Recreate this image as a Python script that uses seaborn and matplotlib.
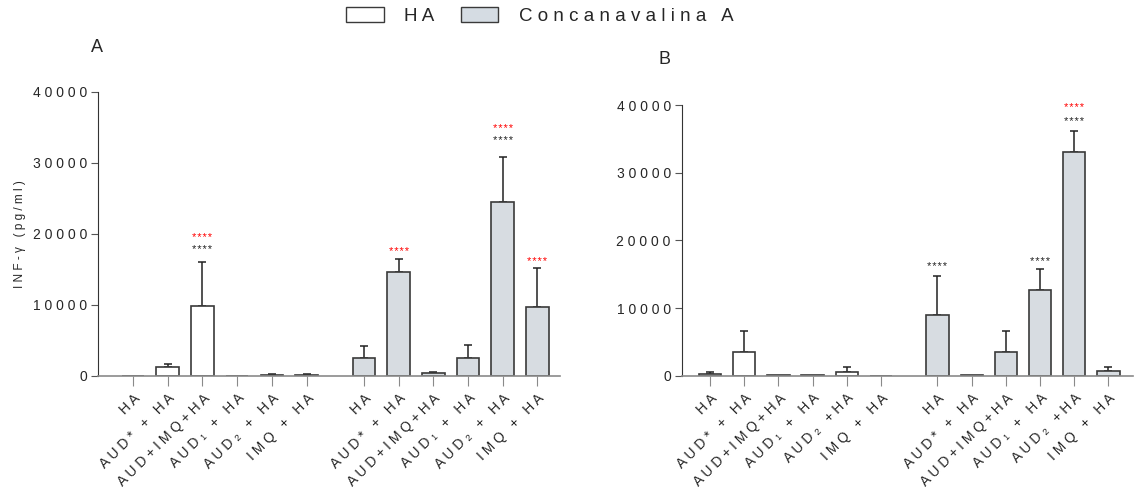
import numpy as np
import pandas as pd
import seaborn as sns
import matplotlib.pyplot as plt
from matplotlib.patches import Patch

# data (IFN-gamma, pg/ml): mean and upper SD
labels_a = ["HA", "AUD* + HA", "AUD+IMQ+HA", "AUD\u2081 + HA", "AUD\u2082 + HA", "IMQ + HA"]
labels_b = ["HA", "AUD* + HA", "AUD+IMQ+HA", "AUD\u2081 + HA", "AUD\u2082 +HA", "IMQ + HA"]
groups = ["HA", "Concanavalina A"]

a_ha_mean = [0, 1300, 9850, 0, 150, 200]
a_ha_sd = [0, 450, 6150, 0, 120, 120]
a_con_mean = [2500, 14700, 380, 2550, 24500, 9700]
a_con_sd = [1780, 1750, 180, 1780, 6350, 5450]

b_ha_mean = [200, 3450, 30, 50, 600, 0]
b_ha_sd = [300, 3150, 0, 0, 650, 0]
b_con_mean = [9000, 50, 3450, 12600, 33000, 700]
b_con_sd = [5700, 0, 3150, 3100, 3100, 600]

# significance marks: (bar index, group index, value, colour)
a_stars = [(2, 0, 19400, "red"), (2, 0, 17800, "#222222"),
           (1, 1, 17400, "red"), (5, 1, 16100, "red"),
           (4, 1, 34800, "red"), (4, 1, 33100, "#222222")]
b_stars = [(0, 1, 16100, "#222222"), (3, 1, 16800, "#222222"),
           (4, 1, 37550, "#222222"), (4, 1, 39500, "red")]

colors = {"HA": "white", "Concanavalina A": "#d5dce3"}
gap = 6.65


def spaced(s, sep=" "):
    return sep.join(list(s))


sns.set_style("ticks")
plt.rcParams['font.family'] = ['Liberation Sans', 'DejaVu Sans']
plt.rcParams['font.size'] = 10

fig = plt.figure(figsize=(11.37, 4.97), dpi=100)
ax_a = fig.add_axes([0.0862, 0.2435, 0.4063, 0.5714])
ax_b = fig.add_axes([0.5998, 0.2441, 0.3967, 0.5446])


def draw_panel(ax, ha_mean, ha_sd, con_mean, con_sd, labels, stars, xlim):
    pos = np.concatenate([np.arange(6), np.arange(6) + gap])
    df = pd.DataFrame({
        "pos": pos,
        "value": ha_mean + con_mean,
        "sd": ha_sd + con_sd,
        "group": [groups[0]] * 6 + [groups[1]] * 6,
    })
    for g in groups:
        sub = df[df["group"] == g]
        sns.barplot(data=sub, x="pos", y="value", native_scale=True,
                    color=colors[g], edgecolor="#3a3a3a", linewidth=1.2,
                    width=0.65, errorbar=None, ax=ax, zorder=2)
        s = sub[sub["sd"] > 0]
        ax.errorbar(s["pos"], s["value"], yerr=[np.zeros(len(s)), s["sd"]],
                    fmt="none", ecolor="#222222", elinewidth=1.1,
                    capsize=3, capthick=1.1, zorder=1)
    for i, grp, y, c in stars:
        x = i + gap * grp
        ax.text(x, y, spaced("****", "\u200a"), color=c, fontsize=8,
                ha="center", va="center")
    ax.set_xlim(*xlim)
    ax.set_ylim(0, 40000)
    ax.set_xticks(pos)
    ax.set_xticklabels([spaced(l) for l in labels + labels], rotation=45,
                       ha="right", rotation_mode="anchor", fontsize=10)
    ax.set_yticks([0, 10000, 20000, 30000, 40000])
    ax.set_yticklabels([spaced(str(v)) for v in [0, 10000, 20000, 30000, 40000]],
                       fontsize=10)
    ax.set_xlabel("")
    ax.set_ylabel("")
    sns.despine(ax=ax)
    ax.spines["left"].set_color("#333333")
    ax.spines["bottom"].set_color("#8a8a8a")
    ax.spines["bottom"].set_linewidth(1.2)
    ax.tick_params(axis="x", length=7, color="#8a8a8a", pad=4)
    ax.tick_params(axis="y", length=5, color="#555555", pad=3)


draw_panel(ax_a, a_ha_mean, a_ha_sd, a_con_mean, a_con_sd, labels_a, a_stars, (-1.01, 12.3))
draw_panel(ax_b, b_ha_mean, b_ha_sd, b_con_mean, b_con_sd, labels_b, b_stars, (-0.82, 12.37))

ax_a.set_ylabel(spaced("INF-\u03b3 (pg/ml)"), fontsize=8.5)
ax_a.yaxis.set_label_coords(-0.155, 0.5)

fig.text(97 / 1137, 1 - 47 / 497, "A", fontsize=13, ha="center", va="center")
fig.text(665 / 1137, 1 - 60 / 497, "B", fontsize=13, ha="center", va="center")

handles = [Patch(facecolor=colors[g], edgecolor="#3a3a3a", linewidth=1.0) for g in groups]
fig.legend(handles, [spaced(g) for g in groups], loc="center", ncol=2,
           bbox_to_anchor=(540 / 1137, 1 - 16 / 497), frameon=False,
           fontsize=13.5, handlelength=2.0, handleheight=0.8,
           handletextpad=1.1, columnspacing=1.4)

fig.savefig("out.png", dpi=100)
